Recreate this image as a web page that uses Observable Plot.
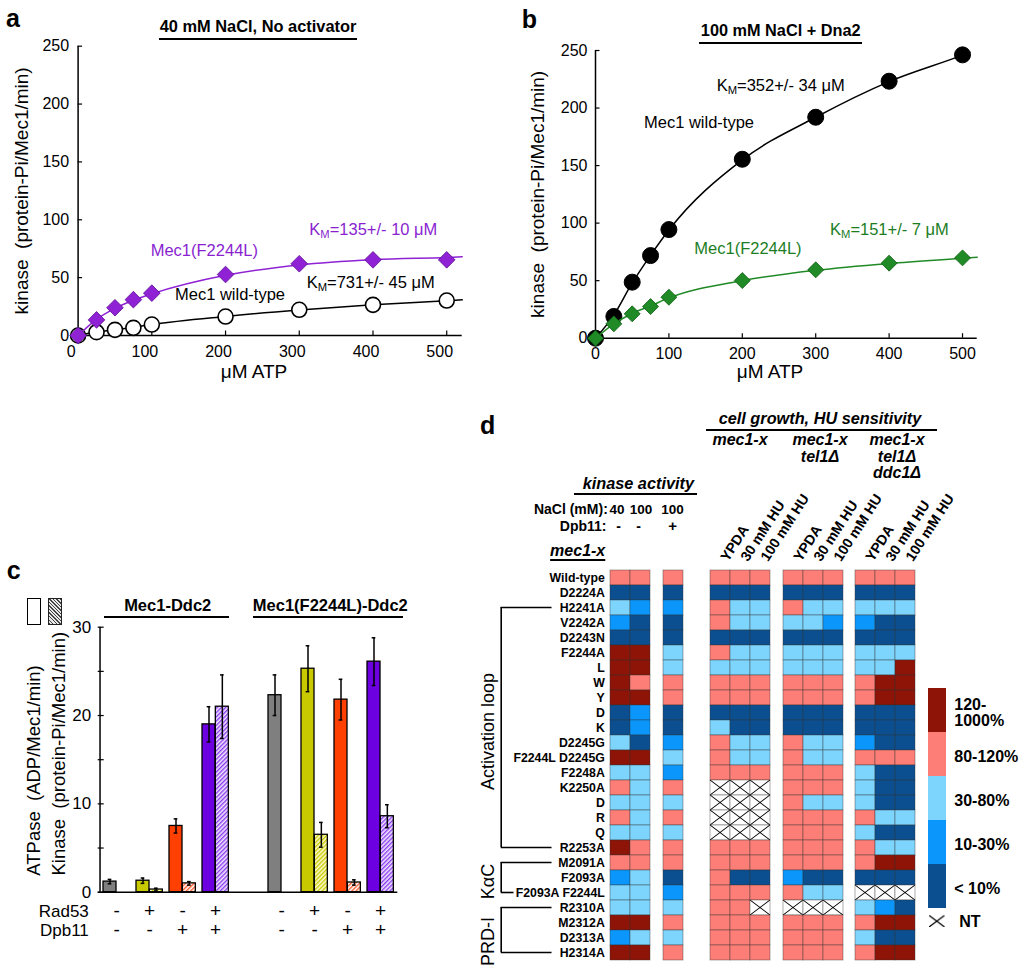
<!DOCTYPE html>
<html><head><meta charset="utf-8">
<script src="https://cdn.jsdelivr.net/npm/d3@7"></script>
<script src="https://cdn.jsdelivr.net/npm/@observablehq/plot@0.6"></script>
<style>
body{margin:0;background:#fff;}
#root{position:relative;width:1025px;height:973px;overflow:hidden;background:#fff;font-family:"Liberation Sans",Arial,Helvetica,sans-serif;color:#000;}
.lbl{position:absolute;white-space:pre;line-height:1;}
.sub{font-size:0.68em;vertical-align:-0.3em;line-height:0;}
.hl{position:absolute;background:#000;}
.box{position:absolute;box-sizing:border-box;}
</style></head>
<body>
<div id="root"></div>
<svg width="0" height="0" style="position:absolute;left:0;top:0">
<defs>
<pattern id="ntx" patternUnits="objectBoundingBox" patternContentUnits="objectBoundingBox" width="1" height="1">
<rect width="1" height="1" fill="#fff"/><path d="M0,0L1,1M1,0L0,1" stroke="#000" stroke-width="0.055" fill="none"/></pattern>
<pattern id="ntx2" patternUnits="objectBoundingBox" patternContentUnits="objectBoundingBox" width="1" height="1">
<path d="M0,0L1,1M1,0L0,1" stroke="#000" stroke-width="0.1" fill="none"/></pattern>
<pattern id="hatch0" width="3" height="3" patternUnits="userSpaceOnUse" patternTransform="rotate(45)"><rect width="3" height="3" fill="#fff"/><rect width="1.4" height="3" fill="#7f7f7f"/></pattern>
<pattern id="hatch1" width="3" height="3" patternUnits="userSpaceOnUse" patternTransform="rotate(45)"><rect width="3" height="3" fill="#fbfbd0"/><rect width="1.4" height="3" fill="#c9c900"/></pattern>
<pattern id="hatch2" width="3" height="3" patternUnits="userSpaceOnUse" patternTransform="rotate(45)"><rect width="3" height="3" fill="#fff"/><rect width="1.4" height="3" fill="#ff5a2a"/></pattern>
<pattern id="hatch3" width="3" height="3" patternUnits="userSpaceOnUse" patternTransform="rotate(45)"><rect width="3" height="3" fill="#f2e8ff"/><rect width="1.4" height="3" fill="#8a3cf0"/></pattern>
</defs></svg>
<script>
// ---------------- DATA ----------------
// Panel a: 40 mM NaCl, no activator
const aAtp = [0, 25, 50, 75, 100, 200, 300, 400, 500];
const aMutRate = [0, 13.5, 24, 31, 36.6, 52.7, 62, 65.4, 65.4];
const aWtRate = [0, 2.9, 4.9, 6.6, 9.5, 16.4, 22.2, 26.5, 30.2];
const aFitAtp = [0, 25, 50, 75, 100, 200, 300, 400, 500, 521];
const aMutFit = [0, 14, 23.5, 30.5, 36, 52, 61, 65.5, 67.5, 68];
const aWtFit = [0, 3, 5, 7, 9.5, 16.5, 22, 26.5, 30, 30.8];
// Panel b: 100 mM NaCl + Dna2
const bAtp = [0, 25, 50, 75, 100, 200, 300, 400, 500];
const bWtRate = [0, 18.9, 48.7, 71.8, 94.4, 155.5, 192, 223.3, 246.2];
const bMutRate = [0, 12.5, 21.2, 27.5, 35.6, 50.1, 59.4, 65.2, 69.8];
const bWtFitAtp = [0, 25, 50, 75, 100, 200, 300, 400, 500, 510];
const bWtFit = [0, 20, 48, 72, 94, 155, 192, 223, 246, 248.5];
const bMutFitAtp = [0, 25, 50, 75, 100, 200, 300, 400, 500, 520];
const bMutFit = [0, 12.5, 21.5, 28, 35, 50, 59, 65, 69.5, 70.4];
const abYTicks = [0, 50, 100, 150, 200, 250];
const abXTicks = [0, 100, 200, 300, 400, 500];
// Panel c
const cEnzyme = ["Mec1-Ddc2", "Mec1-Ddc2", "Mec1-Ddc2", "Mec1-Ddc2", "Mec1(F2244L)-Ddc2", "Mec1(F2244L)-Ddc2", "Mec1(F2244L)-Ddc2", "Mec1(F2244L)-Ddc2"];
const cRad53 = ["-", "+", "-", "+", "-", "+", "-", "+"];
const cDpb11 = ["-", "-", "+", "+", "-", "-", "+", "+"];
const cAtpase = [1.2, 1.3, 7.5, 19.0, 22.3, 25.3, 21.8, 26.1];
const cAtpaseErr = [0.25, 0.3, 0.8, 2.0, 2.3, 2.6, 2.3, 2.7];
const cKinase = [null, 0.3, 1.0, 21.0, null, 6.5, 1.1, 8.6];
const cKinaseErr = [null, 0.15, 0.2, 3.6, null, 1.4, 0.3, 1.3];
const cYTicks = [0, 5, 10, 15, 20, 25, 30];
const cYLabels = [0, 10, 20, 30];
const cColors = ["#7f7f7f", "#c9c900", "#ff4000", "#6c00e0"];
// Panel d
const rowLabels = ["Wild-type", "D2224A", "H2241A", "V2242A", "D2243N", "F2244A", "L", "W", "Y", "D", "K", "D2245G", "F2244L D2245G", "F2248A", "K2250A", "D", "R", "Q", "R2253A", "M2091A", "F2093A", "F2093A F2244L", "R2310A", "M2312A", "D2313A", "H2314A"];
// codes: 0 <10%, 1 10-30%, 2 30-80%, 3 80-120%, 4 120-1000%, "NT" not tested
const kin40 = [3,0,2,1,0,4,4,4,4,0,0,2,4,2,3,2,3,2,4,3,1,2,2,4,1,4];
const kin100 = [3,0,1,0,0,4,4,3,4,1,1,0,4,2,2,2,2,2,3,3,2,2,2,4,2,4];
const kinDpb11 = [3,0,1,0,0,2,2,3,3,0,0,1,2,1,3,2,3,2,3,3,0,1,2,3,2,3];
const mecYPDA = [3,0,3,3,0,3,2,3,3,0,2,3,3,3,"NT","NT","NT","NT",3,3,3,3,3,3,3,3];
const mecHU30 = [3,0,2,2,0,2,2,3,3,0,0,2,2,3,"NT","NT","NT","NT",3,3,0,3,3,3,3,3];
const mecHU100 = [3,0,2,2,0,2,2,3,3,0,0,2,2,3,"NT","NT","NT","NT",3,3,0,3,"NT",3,3,3];
const telYPDA = [3,0,3,2,0,2,2,3,3,0,0,3,3,3,3,3,3,3,3,3,1,3,"NT",3,3,3];
const telHU30 = [3,0,2,2,0,2,2,3,3,0,0,2,2,3,3,2,3,3,3,3,0,2,"NT",3,3,3];
const telHU100 = [3,0,2,1,0,2,2,3,3,0,0,2,2,3,3,2,3,3,3,3,0,2,"NT",3,3,3];
const ddcYPDA = [3,0,2,1,0,2,2,3,3,0,0,1,3,2,2,2,3,2,3,3,0,"NT",2,3,2,3];
const ddcHU30 = [3,0,2,0,0,2,2,4,4,0,0,0,3,0,0,0,2,0,2,4,0,"NT",1,4,0,4];
const ddcHU100 = [3,0,2,0,0,2,4,4,4,0,0,0,3,0,0,0,2,0,2,4,0,"NT",0,4,0,4];
const growthCols = ["YPDA", "30 mM HU", "100 mM HU"];
const kinNaCl = ["40", "100"];
const kinDpbSign = ["-", "-"];
const brackets = [
  {name: "Activation loop", from: 2, to: 18},
  {name: "K\u03b1C", from: 19, to: 21},
  {name: "PRD-I", from: 22, to: 25}
];
const legendCodes = ["4", "3", "2", "1", "0"];
const legendLabels = ["120-\n1000%", "80-120%", "30-80%", "10-30%", "< 10%"];
const HEAT_DOMAIN = ["0", "1", "2", "3", "4", "NT", "NTL"];
const HEAT_RANGE = ["#0b4f90", "#0b96fb", "#7dd4fd", "#fd7d77", "#8d1407", "url(#ntx)", "url(#ntx2)"];

// ---------------- HELPERS ----------------
const root = document.getElementById("root");
const FONT = '"Liberation Sans", Arial, Helvetica, sans-serif';
const baseStyle = {fontFamily: FONT, fontSize: "16px", background: "none", overflow: "visible", color: "#000"};
function place(el, left, top) {
  el.style.position = "absolute"; el.style.left = left + "px"; el.style.top = top + "px";
  root.appendChild(el); return el;
}
function label(html, x, y, o = {}) {
  const {size = 16, weight = 400, italic = false, anchor = "start", color = "#000", underline = false} = o;
  const d = document.createElement("div");
  d.className = "lbl"; d.innerHTML = html;
  Object.assign(d.style, {left: x + "px", top: (y - 0.8465 * size) + "px", fontSize: size + "px",
    fontWeight: weight, fontStyle: italic ? "italic" : "normal", color});
  if (anchor === "middle") d.style.transform = "translateX(-50%)";
  else if (anchor === "end") d.style.transform = "translateX(-100%)";
  if (underline) { d.style.textDecoration = "underline"; d.style.textDecorationThickness = "1.5px"; d.style.textUnderlineOffset = "3px"; }
  root.appendChild(d);
}
function hline(x1, x2, y, t = 2) {
  const d = document.createElement("div"); d.className = "hl";
  Object.assign(d.style, {left: x1 + "px", top: y + "px", width: (x2 - x1) + "px", height: t + "px"});
  root.appendChild(d);
}
const PURPLE = "#8f22d4", PURPLE_D = "#5d0d96", PURPLE_T = "#8a1fd0";
const GREEN = "#208a26", GREEN_D = "#0d5a12", GREEN_T = "#1b7d1f";

// ---------------- PANEL A ----------------
{
  const W = 500, H = 370, ml = 77.6, mr = 38.3, mt = 45.7, mb = 35;
  const pts = aAtp.map((x, i) => ({x, wt: aWtRate[i], mut: aMutRate[i]}));
  const fit = aFitAtp.map((x, i) => ({x, wt: aWtFit[i], mut: aMutFit[i]}));
  const svg = Plot.plot({
    width: W, height: H, marginLeft: ml, marginRight: mr, marginTop: mt, marginBottom: mb,
    style: baseStyle,
    x: {domain: [0, 521], label: null}, y: {domain: [0, 250], label: null},
    marks: [
      Plot.ruleX([0], {strokeWidth: 1.5}),
      Plot.ruleY([0], {strokeWidth: 1.5}),
      Plot.ruleY(abYTicks.slice(1), {y: d => d, insetRight: (W - ml - mr) - 4.5, strokeWidth: 1.2}),
      Plot.ruleX(abXTicks.slice(1), {x: d => d, insetTop: (H - mt - mb) - 4.5, strokeWidth: 1.2}),
      Plot.axisY({ticks: abYTicks, tickSize: 0, tickPadding: 9, fontSize: 16, label: null}),
      Plot.axisX({ticks: abXTicks, tickSize: 0, tickPadding: 10, dx: -7, fontSize: 16, label: null}),
      Plot.text(["kinase\u00a0\u00a0(protein-Pi/Mec1/min)"], {text: d => d, frameAnchor: "left", textAnchor: "middle", rotate: -90, dx: -56, fontSize: 19}),
      Plot.line(fit, {x: "x", y: "wt", curve: "monotone-x", stroke: "#000", strokeWidth: 1.5}),
      Plot.dot(pts, {x: "x", y: "wt", r: 7.5, fill: "#fff", stroke: "#000", strokeWidth: 1.6}),
      Plot.line(fit, {x: "x", y: "mut", curve: "monotone-x", stroke: PURPLE, strokeWidth: 1.5}),
      Plot.dot(pts, {x: "x", y: "mut", r: 7.5, symbol: "diamond2", fill: PURPLE, stroke: PURPLE_D, strokeWidth: 0.8})
    ]
  });
  place(svg, 0, 0);
}

// ---------------- PANEL B ----------------
{
  const W = 525, H = 370, ml = 95, mr = 48.3, mt = 50, mb = 32.3;
  const pts = bAtp.map((x, i) => ({x, wt: bWtRate[i], mut: bMutRate[i]}));
  const wtFit = bWtFitAtp.map((x, i) => ({x, y: bWtFit[i]}));
  const mutFit = bMutFitAtp.map((x, i) => ({x, y: bMutFit[i]}));
  const svg = Plot.plot({
    width: W, height: H, marginLeft: ml, marginRight: mr, marginTop: mt, marginBottom: mb,
    style: baseStyle,
    x: {domain: [0, 520], label: null}, y: {domain: [0, 250], label: null},
    marks: [
      Plot.ruleX([0], {strokeWidth: 1.5}),
      Plot.ruleY([0], {strokeWidth: 1.5}),
      Plot.ruleY(abYTicks.slice(1), {y: d => d, insetRight: (W - ml - mr) - 4.5, strokeWidth: 1.2}),
      Plot.ruleX(abXTicks.slice(1), {x: d => d, insetTop: (H - mt - mb) - 4.5, strokeWidth: 1.2}),
      Plot.axisY({ticks: abYTicks, tickSize: 0, tickPadding: 8, fontSize: 16, label: null}),
      Plot.axisX({ticks: abXTicks, tickSize: 0, tickPadding: 9, fontSize: 16, label: null}),
      Plot.text(["kinase\u00a0\u00a0(protein-Pi/Mec1/min)"], {text: d => d, frameAnchor: "left", textAnchor: "middle", rotate: -90, dx: -58, fontSize: 19}),
      Plot.line(wtFit, {x: "x", y: "y", curve: "monotone-x", stroke: "#000", strokeWidth: 1.5}),
      Plot.dot(pts, {x: "x", y: "wt", r: 8, fill: "#000", stroke: "#000", strokeWidth: 1}),
      Plot.line(mutFit, {x: "x", y: "y", curve: "monotone-x", stroke: GREEN, strokeWidth: 1.5}),
      Plot.dot(pts, {x: "x", y: "mut", r: 7.2, symbol: "diamond2", fill: GREEN, stroke: GREEN_D, strokeWidth: 0.8})
    ]
  });
  place(svg, 500, 0);
}

// ---------------- PANEL C ----------------
{
  const W = 420, H = 370, ml = 97.7, mr = 22.7, mt = 46.7, mb = 58.3;
  const data = cAtpase.map((v, i) => ({
    key: cEnzyme[i] + "|" + cRad53[i] + cDpb11[i], rad53: cRad53[i], dpb11: cDpb11[i],
    atp: v, atpErr: cAtpaseErr[i], kin: cKinase[i], kinErr: cKinaseErr[i],
    color: cColors[i % 4], hatch: `url(#hatch${i % 4})`
  }));
  const domain = [...data.slice(0, 4).map(d => d.key), "gap", ...data.slice(4).map(d => d.key)];
  const kinData = data.filter(d => d.kin != null);
  const step = 300 / domain.length; // band step in px
  const svg = Plot.plot({
    width: W, height: H, marginLeft: ml, marginRight: mr, marginTop: mt, marginBottom: mb,
    style: baseStyle,
    x: {type: "band", domain, range: [101, 401], padding: 0, axis: null},
    y: {domain: [0, 30], label: null},
    color: {type: "identity"},
    marks: [
      Plot.barY(data, {x: "key", y: "atp", fill: "color", stroke: "#000", strokeWidth: 1.3, insetRight: step * 0.6}),
      Plot.barY(kinData, {x: "key", y: "kin", fill: "hatch", stroke: "#000", strokeWidth: 1.3, insetLeft: step * 0.4, insetRight: step * 0.2}),
      Plot.ruleX(data, {x: "key", y1: d => d.atp - d.atpErr, y2: d => d.atp + d.atpErr, dx: -step * 0.3, strokeWidth: 1.5}),
      Plot.tickY(data, {x: "key", y: d => d.atp + d.atpErr, insetLeft: step * 0.2 - 2, insetRight: step * 0.8 - 2, strokeWidth: 1.5}),
      Plot.tickY(data, {x: "key", y: d => d.atp - d.atpErr, insetLeft: step * 0.2 - 2, insetRight: step * 0.8 - 2, strokeWidth: 1.5}),
      Plot.ruleX(kinData, {x: "key", y1: d => d.kin - d.kinErr, y2: d => d.kin + d.kinErr, dx: step * 0.1, strokeWidth: 1.5}),
      Plot.tickY(kinData, {x: "key", y: d => d.kin + d.kinErr, insetLeft: step * 0.6 - 2, insetRight: step * 0.4 - 2, strokeWidth: 1.5}),
      Plot.tickY(kinData, {x: "key", y: d => d.kin - d.kinErr, insetLeft: step * 0.6 - 2, insetRight: step * 0.4 - 2, strokeWidth: 1.5}),
      Plot.ruleY([0], {strokeWidth: 1.5}),
      Plot.ruleX([domain[0]], {x: d => d, dx: -(101 + step / 2 - ml), strokeWidth: 1.5}),
      Plot.ruleY(cYTicks, {y: d => d, insetRight: (W - ml - mr) - 6, strokeWidth: 1.2}),
      Plot.axisY({ticks: cYLabels, tickSize: 0, tickPadding: 7, fontSize: 17, label: null}),
      Plot.text(data, {x: "key", text: "rad53", frameAnchor: "bottom", dy: 24.3, dx: -step * 0.1, lineAnchor: "bottom", fontSize: 19}),
      Plot.text(data, {x: "key", text: "dpb11", frameAnchor: "bottom", dy: 43.3, dx: -step * 0.1, lineAnchor: "bottom", fontSize: 19}),
      Plot.text(["Rad53"], {text: d => d, frameAnchor: "bottom-left", textAnchor: "end", dx: -9.4, dy: 24.3, lineAnchor: "bottom", fontSize: 17}),
      Plot.text(["Dpb11"], {text: d => d, frameAnchor: "bottom-left", textAnchor: "end", dx: -9.4, dy: 43.3, lineAnchor: "bottom", fontSize: 17}),
      Plot.text(["ATPase\u00a0\u00a0(ADP/Mec1/min)"], {text: d => d, frameAnchor: "left", textAnchor: "middle", rotate: -90, dx: -64.4, dy: 10.8, fontSize: 18.5}),
      Plot.text(["Kinase\u00a0\u00a0(protein-Pi/Mec1/min)"], {text: d => d, frameAnchor: "left", textAnchor: "middle", rotate: -90, dx: -39.4, dy: -6, fontSize: 18.5})
    ]
  });
  place(svg, 0, 580);
}

// ---------------- PANEL D ----------------
const HT = 470, HH = 503, HMT = 93.3, HMB = 6.3;
function heatPlot({cols, values, left, width, ml, mr, extra = []}) {
  const cells = cols.flatMap((c, ci) => values[ci].map((v, r) => ({col: c, row: r, code: String(v)})));
  const svg = Plot.plot({
    width, height: HH, marginLeft: ml, marginRight: mr, marginTop: HMT, marginBottom: HMB,
    style: {...baseStyle, fontWeight: "bold"},
    x: {type: "band", domain: cols, padding: 0, axis: null},
    y: {type: "band", domain: d3.range(rowLabels.length), padding: 0, axis: null},
    color: {type: "ordinal", domain: HEAT_DOMAIN, range: HEAT_RANGE},
    marks: [
      Plot.cell(cells, {x: "col", y: "row", fill: "code", stroke: "#333", strokeOpacity: 0.5, strokeWidth: 0.8}),
      ...extra
    ]
  });
  place(svg, left, HT);
}
// kinase activity columns + row labels
heatPlot({
  cols: ["k40", "k100"], values: [kin40, kin100], left: 480, width: 175, ml: 130, mr: 5,
  extra: [
    Plot.text(d3.range(rowLabels.length), {y: d => d, text: d => rowLabels[d], frameAnchor: "left", textAnchor: "end", dx: -5.7, fontSize: 12.3}),
    Plot.text(["k40"], {x: d => d, text: () => kinNaCl[0], frameAnchor: "top", dy: -50, dx: -3.5, lineAnchor: "bottom", fontSize: 13.5}),
    Plot.text(["k100"], {x: d => d, text: () => kinNaCl[1], frameAnchor: "top", dy: -50, dx: 0.5, lineAnchor: "bottom", fontSize: 13.5}),
    Plot.text(["k40", "k100"], {x: d => d, text: (d, i) => kinDpbSign[i], frameAnchor: "top", dy: -33.3, dx: -2, lineAnchor: "bottom", fontSize: 14}),
    Plot.text(["NaCl (mM):"], {text: d => d, frameAnchor: "top-left", textAnchor: "end", dx: -2.7, dy: -50, lineAnchor: "bottom", fontSize: 14}),
    Plot.text(["Dpb11:"], {text: d => d, frameAnchor: "top-left", textAnchor: "end", dx: -4, dy: -33.3, lineAnchor: "bottom", fontSize: 14})
  ]
});
heatPlot({
  cols: ["dpb"], values: [kinDpb11], left: 652.7, width: 40, ml: 10, mr: 10,
  extra: [
    Plot.text(["dpb"], {x: d => d, text: () => "100", frameAnchor: "top", dy: -50, dx: -1, lineAnchor: "bottom", fontSize: 13.5}),
    Plot.text(["dpb"], {x: d => d, text: () => "+", frameAnchor: "top", dy: -33.3, dx: -1, lineAnchor: "bottom", fontSize: 15})
  ]
});
function growthPlot(values, frameLeft) {
  heatPlot({
    cols: growthCols, values, left: frameLeft - 10, width: 110, ml: 10, mr: 40,
    extra: [Plot.text(growthCols, {x: d => d, text: d => d, frameAnchor: "top", rotate: -57, textAnchor: "start", dy: -7, dx: -1, fontSize: 14.2})]
  });
}
growthPlot([mecYPDA, mecHU30, mecHU100], 710);
growthPlot([telYPDA, telHU30, telHU100], 782.7);
growthPlot([ddcYPDA, ddcHU30, ddcHU100], 855.3);

// brackets
{
  const svg = Plot.plot({
    width: 90, height: HH, marginLeft: 30.7, marginRight: 8.5, marginTop: HMT, marginBottom: HMB,
    style: baseStyle,
    x: {domain: [0, 1], axis: null},
    y: {type: "point", domain: d3.range(rowLabels.length), padding: 0.5, axis: null},
    marks: [
      Plot.ruleX(brackets, {x: 0, y1: "from", y2: "to", strokeWidth: 1.6}),
      Plot.ruleY(brackets, {y: "from", x1: 0, x2: 1, strokeWidth: 1.6}),
      Plot.ruleY(brackets.filter(b => b.name !== "K\u03b1C"), {y: "to", x1: 0, x2: 1, strokeWidth: 1.6}),
      Plot.ruleY(brackets.filter(b => b.name === "K\u03b1C"), {y: "to", x1: 0, x2: 1, insetRight: 38, strokeWidth: 1.6}),
      Plot.text(brackets, {x: 0, y: d => Math.round((d.from + d.to) / 2), text: "name", rotate: -90, dx: -12.7, dy: 4, fontSize: 18})
    ]
  });
  place(svg, 470, HT);
}

// legend
{
  const svg = Plot.plot({
    width: 125, height: 290, marginLeft: 27.3, marginRight: 79.3, marginTop: 15, marginBottom: 5.8,
    style: {...baseStyle, fontWeight: "bold"},
    x: {type: "band", domain: ["box"], padding: 0, axis: null},
    y: {type: "band", domain: [...legendCodes, "NT"], padding: 0, axis: null},
    color: {type: "ordinal", domain: HEAT_DOMAIN, range: HEAT_RANGE},
    marks: [
      Plot.cell(legendCodes, {x: () => "box", y: d => d, fill: d => d}),
      Plot.cell(["NT"], {x: () => "box", y: d => d, fill: () => "NTL", insetTop: 7.4, insetBottom: 25, insetLeft: 1, insetRight: 1.4}),
      Plot.text(legendCodes, {x: () => "box", y: d => d, text: (d, i) => legendLabels[i], textAnchor: "start", dx: 16.8, dy: 2, fontSize: 16, lineHeight: 1.04}),
      Plot.text(["NT"], {x: () => "box", y: d => d, text: d => d, textAnchor: "start", dx: 21.8, dy: -8.5, fontSize: 16})
    ]
  });
  place(svg, 900, 670);
}

// ---------------- TEXT ANNOTATIONS ----------------
label("a", 6, 26.7, {size: 25, weight: 700});
label("b", 521.7, 28.3, {size: 25, weight: 700});
label("c", 6.7, 579.3, {size: 25, weight: 700});
label("d", 480, 434, {size: 25, weight: 700});
label("40 mM NaCl, No activator", 258, 31.7, {size: 16.4, weight: 700, anchor: "middle"});
hline(159.3, 356.7, 38, 2);
label("100 mM NaCl + Dna2", 780.7, 35.7, {size: 16.3, weight: 700, anchor: "middle"});
hline(699.3, 862.3, 41.7, 2);
label("Mec1(F2244L)", 150.7, 256, {size: 16.5, color: PURPLE_T});
label('K<span class="sub">M</span>=135+/- 10 \u03bcM', 309.3, 235, {size: 16.5, color: PURPLE_T});
label("Mec1 wild-type", 175, 300, {size: 16.5});
label('K<span class="sub">M</span>=731+/- 45 \u03bcM', 306.7, 288.3, {size: 16.5});
label('K<span class="sub">M</span>=352+/- 34 \u03bcM', 716.7, 90.7, {size: 16.5});
label("Mec1 wild-type", 644, 128.3, {size: 16.5});
label("Mec1(F2244L)", 694.3, 254, {size: 16.5, color: GREEN_T});
label('K<span class="sub">M</span>=151+/- 7 \u03bcM', 830, 235, {size: 16.5, color: GREEN_T});
label("\u03bcM ATP", 254, 378, {size: 19, anchor: "middle"});
label("\u03bcM ATP", 770, 378, {size: 19, anchor: "middle"});
// panel c headers
label("Mec1-Ddc2", 167.7, 610.7, {size: 16.5, weight: 700, anchor: "middle"});
hline(104, 229.3, 615.7, 2);
label("Mec1(F2244L)-Ddc2", 330.3, 610.7, {size: 16.5, weight: 700, anchor: "middle"});
hline(253.3, 403.3, 615.7, 2);
{
  const b1 = document.createElement("div"); b1.className = "box";
  Object.assign(b1.style, {left: "26.7px", top: "598.3px", width: "14.3px", height: "26.7px", border: "1.5px solid #000", background: "#fff"});
  root.appendChild(b1);
  const b2 = document.createElement("div"); b2.className = "box";
  Object.assign(b2.style, {left: "48.3px", top: "598.3px", width: "13.4px", height: "26.7px", border: "1.2px solid #222",
    background: "repeating-linear-gradient(45deg,#444 0 1px,#e8e8e8 1px 2.5px)"});
  root.appendChild(b2);
}
// panel d headers
label("cell growth, HU sensitivity", 820, 424, {size: 16.3, weight: 700, italic: true, anchor: "middle"});
hline(706, 937.3, 429, 2);
label("mec1-x", 740, 446, {size: 16, weight: 700, italic: true, anchor: "middle"});
label("mec1-x", 820, 446, {size: 16, weight: 700, italic: true, anchor: "middle"});
label("tel1\u0394", 820, 462.7, {size: 16, weight: 700, italic: true, anchor: "middle"});
label("mec1-x", 897, 446, {size: 16, weight: 700, italic: true, anchor: "middle"});
label("tel1\u0394", 897, 462.7, {size: 16, weight: 700, italic: true, anchor: "middle"});
label("ddc1\u0394", 897, 478.3, {size: 16, weight: 700, italic: true, anchor: "middle"});
label("kinase activity", 638.3, 488.3, {size: 16.3, weight: 700, italic: true, anchor: "middle"});
hline(574, 696.7, 493.3, 2);
label("mec1-x", 577.7, 556.7, {size: 16, weight: 700, italic: true, anchor: "middle", underline: true});
</script>
</body></html>
